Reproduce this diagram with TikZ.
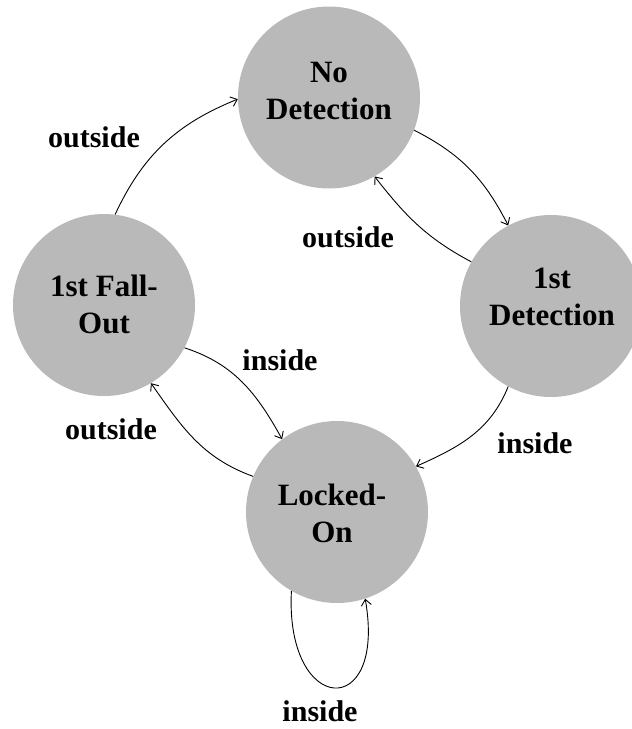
\documentclass[tikz,border=0pt]{standalone}
\usepackage{fontspec}
\setmainfont{Liberation Serif}
\usetikzlibrary{arrows.meta}
\definecolor{stategray}{RGB}{185,185,185}
\tikzset{
  state/.style={circle, fill=stategray, minimum size=182pt, inner sep=0pt},
  statetext/.style={align=center, font=\fontsize{31}{37}\selectfont\bfseries, inner sep=0pt},
  lbl/.style={font=\fontsize{30}{36}\selectfont\bfseries, inner sep=0pt},
  trans/.style={draw=black, line width=0.9pt, -{Straight Barb[length=6pt,width=10pt]}},
}
\begin{document}
\begin{tikzpicture}[x=1pt,y=-1pt]
  \clip (0,0) rectangle (632,729);
  % states
  \node[state] (nd)  at (329,97.5) {};
  \node[state] (det) at (551,306) {};
  \node[state] (fo)  at (104,305) {};
  \node[state] (lo)  at (337,512) {};
  % state names
  \node[statetext] (ndt)  at (329,91)  {No\\Detection};
  \node[statetext] (dett) at (552,297) {1st\\Detection};
  \node[statetext] (fot)  at (104,304) {1st Fall-\\Out};
  \node[statetext] (lot)  at (332,513) {Locked-\\On};
  % transitions
  \draw[trans] (fo.83)   to[out=65,in=202]  (nd.181);
  \draw[trans] (nd.-21)  to[out=-27,in=117] (det.118);
  \draw[trans] (det.151) to[out=152,in=-52] (nd.-60);
  \draw[trans] (det.-118) to[out=-112,in=24] (lo.30);
  \draw[trans] (fo.-28)  to[out=-18,in=119] (lo.127);
  \draw[trans] (lo.157)  to[out=160,in=-55] (fo.-59);
  \draw[trans] (lo.-120) .. controls +(-93:125pt) and +(-80:125pt) .. (lo.-72);
  % transition labels
  \node[lbl] (l1) at (94,137)  {outside};
  \node[lbl] (l2) at (348,237) {outside};
  \node[lbl] (l3) at (535,443) {inside};
  \node[lbl] (l4) at (280,360) {inside};
  \node[lbl] (l5) at (111,429) {outside};
  \node[lbl] (l6) at (320,711) {inside};
\end{tikzpicture}
\end{document}
